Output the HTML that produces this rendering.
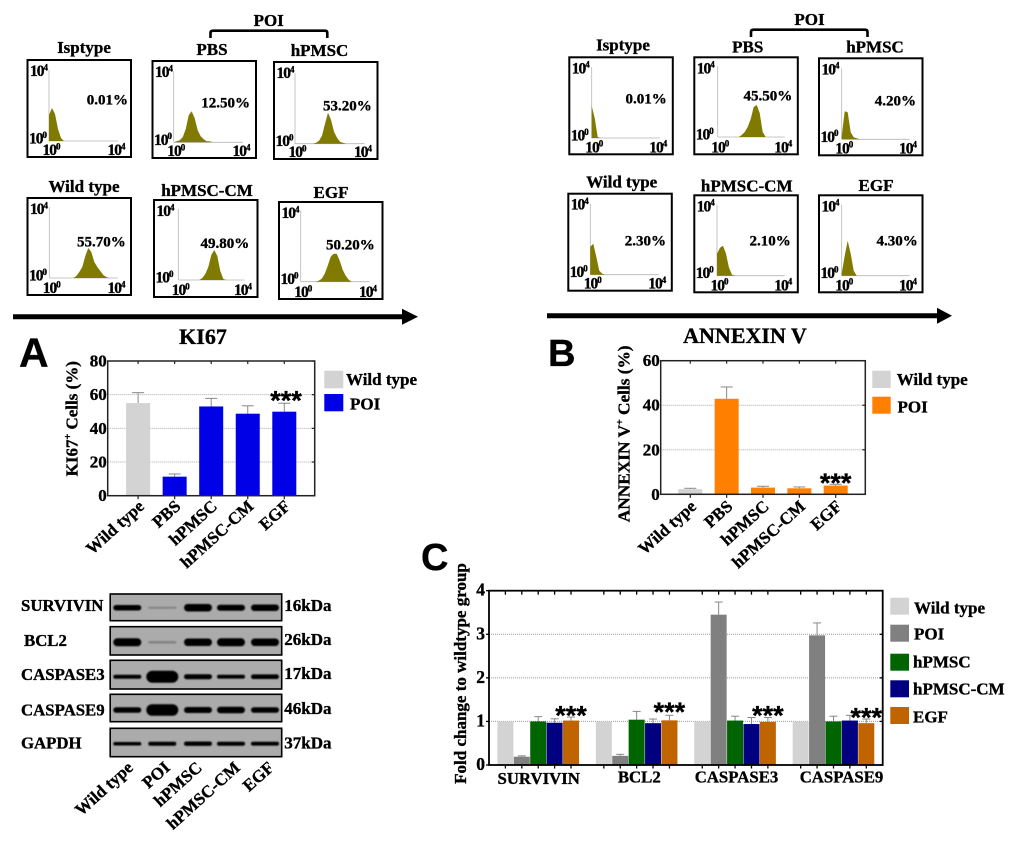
<!DOCTYPE html>
<html lang="en">
<head>
<meta charset="utf-8">
<title>KI67 and ANNEXIN V flow cytometry and protein expression figure</title>
<style>
html,body{margin:0;padding:0;background:#fff;}
#figure{display:block;position:absolute;left:0;top:0;width:1020px;height:841px;filter:blur(.35px);}
text{font-family:"Liberation Serif",serif;font-weight:bold;fill:#000;stroke:#000;stroke-width:.35px;}
</style>
</head>
<body>
<svg id="figure" xmlns="http://www.w3.org/2000/svg" width="1020" height="841" viewBox="0 0 1020 841">
<defs><filter id="bandBlur" x="-20%" y="-50%" width="140%" height="200%"><feGaussianBlur stdDeviation="0.7"/></filter></defs>
</svg>
<script>
/* ---------- Flow cytometry data (histogram counts per 3px bin) ---------- */
const ki67Titles = ["Isptype","PBS","hPMSC","Wild type","hPMSC-CM","EGF"];
const ki67Percent = ["0.01%","12.50%","53.20%","55.70%","49.80%","50.20%"];
const ki67HistIsotype = [26,33,27,12,3,0];
const ki67HistPBS = [0,1,2,5,13,27,31,24,12,6,3,1,1,0];
const ki67HistHPMSC = [0,0,0,0,0,0,0,1,3,8,20,31,24,12,6,2,1,0];
const ki67HistWild = [0,0,0,0,0,0,0,0,0,2,6,11,22,30,26,16,11,7,3,1,0];
const ki67HistCM = [0,0,0,0,0,0,0,0,2,6,13,25,30,24,9,1,0];
const ki67HistEGF = [0,0,0,0,0,0,1,3,8,16,25,28,28,21,12,6,2,0];

const annexinTitles = ["Isptype","PBS","hPMSC","Wild type","hPMSC-CM","EGF"];
const annexinPercent = ["0.01%","45.50%","4.20%","2.30%","2.10%","4.30%"];
const annexinHistIsotype = [32,20,1,0];
const annexinHistPBS = [0,0,0,0,0,0,0,0,2,5,10,18,30,32,24,5,0];
const annexinHistHPMSC = [3,28,27,7,2,1,0];
const annexinHistWild = [28,31,18,4,1,0];
const annexinHistCM = [22,28,30,22,8,1,0];
const annexinHistEGF = [2,20,35,22,5,0];

/* ---------- Bar chart A: KI67 ---------- */
const kiCategories = ["Wild type","PBS","hPMSC","hPMSC-CM","EGF"];
const kiValues = [55,11.3,53,48.7,49.9];
const kiErrors = [61.2,12.9,57.8,53.4,54.9];
const kiTicks = [0,20,40,60,80];

/* ---------- Bar chart B: ANNEXIN V ---------- */
const anCategories = ["Wild type","PBS","hPMSC","hPMSC-CM","EGF"];
const anValues = [2.3,42.9,3,2.7,3.9];
const anErrors = [2.7,48.2,3.6,3.3,4.5];
const anTicks = [0,20,40,60];

/* ---------- Bar chart C: fold change ---------- */
const foldGroups = ["SURVIVIN","BCL2","CASPASE3","CASPASE9"];
const foldSeries = ["Wild type","POI","hPMSC","hPMSC-CM","EGF"];
const foldWild = [1,1,1,1];
const foldPOI = [0.19,0.21,3.45,2.975];
const foldHPMSC = [1,1.04,1.02,1];
const foldCM = [0.97,0.96,0.94,1.02];
const foldEGF = [1.02,1.025,0.99,0.96];
const foldPOIErr = [0.21,0.245,3.74,3.26];
const foldHPMSCErr = [1.11,1.23,1.12,1.12];
const foldCMErr = [1.06,1.055,1.09,1.14];
const foldEGFErr = [1.1,1.14,1.09,1.055];
const foldStarLevel = [1.2,1.29,1.21,1.155];
const foldTicks = [0,1,2,3,4];

/* ---------- Western blot data ---------- */
const blotLanes = ["Wild type","POI","hPMSC","hPMSC-CM","EGF"];
const blotProteins = ["SURVIVIN","BCL2","CASPASE3","CASPASE9","GAPDH"];
const blotSizes = ["16kDa","26kDa","17kDa","46kDa","37kDa"];
const bandSurvivin = [5.5,2,7.5,6,6.5];
const bandBcl2 = [8,2.5,7.5,8,7.5];
const bandCaspase3 = [4,12,5,3.8,4.6];
const bandCaspase9 = [5.5,11.5,6,6.5,5.5];
const bandGapdh = [3.5,4,4.4,4,3.8];

const SVGNS = "http://www.w3.org/2000/svg";
const root = document.getElementById("figure");

function node(tag, attrs, parent, name) {
  const el = document.createElementNS(SVGNS, tag);
  for (const k in attrs) el.setAttribute(k, attrs[k]);
  
  
  parent.appendChild(el);
  return el;
}
function label(parent, x, y, str, size, anchor, name, rot, family) {
  const a = {x:x, y:y, "font-size":size, "text-anchor":anchor||"start"};
  if (rot) a.transform = "rotate(" + rot + " " + x + " " + y + ")";
  if (family) a.style = "font-family:" + family;
  const t = node("text", a, parent, name);
  t.textContent = str;
  return t;
}
function supLabel(parent, x, y, before, sup, after, size, anchor, name, rot) {
  const t = label(parent, x, y, "", size, anchor, name, rot);
  t.appendChild(document.createTextNode(before));
  const s = document.createElementNS(SVGNS, "tspan");
  s.setAttribute("font-size", Math.round(size*0.6));
  s.setAttribute("dy", -size*0.36);
  s.textContent = sup;
  t.appendChild(s);
  if (after) {
    const r = document.createElementNS(SVGNS, "tspan");
    r.setAttribute("dy", size*0.36);
    r.textContent = after;
    t.appendChild(r);
  }
  return t;
}
function flowTick(parent, x, y, sup, name) {
  const t = supLabel(parent, x, y, "10", sup, "", 15.5, "start", name);
  t.setAttribute("letter-spacing", "-1");
  return t;
}

/* Flow panel: box position, axis origin, counts */
function flowPanel(g, slug, boxX, boxY, axisX, axisY, counts, title, titleX, titleY, pct, pctX, pctY) {
  const p = node("g", {}, g, slug + "-panel");
  const histX = i => axisX + i*3;
  const histY = v => axisY - v;
  label(p, titleX, titleY, title, 17, "middle", slug + "-title");
  node("rect", {x:boxX, y:boxY, width:103.5, height:97, fill:"#fff", stroke:"#000", "stroke-width":2}, p, slug + "-frame");
  node("line", {x1:axisX, y1:axisY-71, x2:axisX, y2:axisY, stroke:"#b5b5b5", "stroke-width":.8}, p, slug + "-y-axis");
  node("line", {x1:axisX, y1:axisY, x2:boxX+90.5, y2:axisY, stroke:"#b5b5b5", "stroke-width":.8}, p, slug + "-x-axis");
  let d = "M" + histX(0) + " " + axisY;
  counts.forEach((v,i) => { d += "L" + histX(i) + " " + histY(v); });
  d += "L" + histX(counts.length-1) + " " + axisY + "Z";
  node("path", {d:d, fill:"#807a00"}, p, slug + "-histogram");
  flowTick(p, boxX+2.5, boxY+16, "4", slug + "-y-tick-max");
  flowTick(p, boxX+1.5, axisY+2.5, "0", slug + "-y-tick-min");
  flowTick(p, axisX-6.5, boxY+95, "0", slug + "-x-tick-min");
  flowTick(p, boxX+80, boxY+95, "4", slug + "-x-tick-max");
  label(p, pctX, pctY, pct, 15, "end", slug + "-percent");
}

/* ---- KI67 flow group ---- */
const flowA = node("g", {}, root, "ki67-flow-group");
flowPanel(flowA,"ki67-isotype",27.5,60,49,141,ki67HistIsotype,ki67Titles[0],84,53,ki67Percent[0],128,104.3);
flowPanel(flowA,"ki67-pbs",152.5,61,173.7,142.3,ki67HistPBS,ki67Titles[1],212,55,ki67Percent[1],250,107.7);
flowPanel(flowA,"ki67-hpmsc",274,62,295,143.7,ki67HistHPMSC,ki67Titles[2],319.5,56,ki67Percent[2],371.7,110.3);
flowPanel(flowA,"ki67-wild-type",27.5,198,49.3,278,ki67HistWild,ki67Titles[3],84,192,ki67Percent[3],125.7,246.7);
flowPanel(flowA,"ki67-hpmsc-cm",154,200,178.3,280,ki67HistCM,ki67Titles[4],207,196,ki67Percent[4],249.3,248);
flowPanel(flowA,"ki67-egf",279,202,300.7,281.7,ki67HistEGF,ki67Titles[5],331,198,ki67Percent[5],374.7,249.7);
label(flowA,268.7,26,"POI",17,"middle","ki67-poi-label");
node("path",{d:"M210.5 38V33Q210.5 30.7 213 30.7H325Q327.3 30.7 327.3 33V38",fill:"none",stroke:"#000","stroke-width":2.6},flowA,"ki67-poi-bracket");
node("path",{d:"M13 314.2H402V308.7L418 316.7L402 324.7V319.2H13Z",fill:"#000"},flowA,"ki67-arrow");
label(flowA,203,344,"KI67",22,"middle","ki67-arrow-label");

/* ---- ANNEXIN flow group ---- */
const flowB = node("g", {}, root, "annexin-flow-group");
flowPanel(flowB,"annexin-isotype",569.3,57.3,591.7,138,annexinHistIsotype,annexinTitles[0],623,50.7,annexinPercent[0],666.7,103.3);
flowPanel(flowB,"annexin-pbs",694.3,57.3,717.7,137,annexinHistPBS,annexinTitles[1],747.7,52.3,annexinPercent[1],792.3,100.3);
flowPanel(flowB,"annexin-hpmsc",819,58.3,841.7,139.3,annexinHistHPMSC,annexinTitles[2],875,52.7,annexinPercent[2],916,105.3);
flowPanel(flowB,"annexin-wild-type",568.3,193.7,590.3,274.7,annexinHistWild,annexinTitles[3],621.7,187.3,annexinPercent[3],666,245.3);
flowPanel(flowB,"annexin-hpmsc-cm",694.3,195.3,717,275.7,annexinHistCM,annexinTitles[4],746.7,191.7,annexinPercent[4],790.7,245.3);
flowPanel(flowB,"annexin-egf",819,195.3,841.7,275.7,annexinHistEGF,annexinTitles[5],876,191,annexinPercent[5],917.7,245.3);
label(flowB,809.5,25,"POI",17,"middle","annexin-poi-label");
node("path",{d:"M751 37V32Q751 29.7 753.5 29.7H865Q867.5 29.7 867.5 32V37",fill:"none",stroke:"#000","stroke-width":2.6},flowB,"annexin-poi-bracket");
node("path",{d:"M547 313.2H937V307.7L952 315.7L937 323.7V318.2H547Z",fill:"#000"},flowB,"annexin-arrow");
label(flowB,745,343,"ANNEXIN V",22,"middle","annexin-arrow-label");

/* ---- Panel letters ---- */
label(root,19,366.7,"A",41,"start","panel-letter-a",0,'"Liberation Sans",sans-serif');
label(root,548,366,"B",38,"start","panel-letter-b",0,'"Liberation Sans",sans-serif');
label(root,421,570,"C",38,"start","panel-letter-c",0,'"Liberation Sans",sans-serif');

/* Generic simple bar chart for A and B */
function simpleBarChart(cfg) {
  const g = node("g", {}, root, cfg.slug + "-chart");
  const L = cfg.left, R = cfg.right, T = cfg.top, B = cfg.bottom;
  const yMax = cfg.ticks[cfg.ticks.length-1];
  const yScale = v => B - v/yMax*(B-T);
  const n = cfg.categories.length;
  const step = (R-L-2*cfg.pad)/(n-1);
  const xScale = i => L + cfg.pad + i*step;
  cfg.ticks.forEach(t => {
    if (t>0 && t<yMax) node("line",{x1:L,y1:yScale(t),x2:R,y2:yScale(t),stroke:"#aaa","stroke-width":1,"stroke-dasharray":"1 1"},g,cfg.slug+"-gridline");
  });
  cfg.values.forEach((v,i) => {
    const col = i===0 ? cfg.wildColor : cfg.poiColor;
    const cx = xScale(i);
    node("line",{x1:cx,y1:yScale(v),x2:cx,y2:yScale(cfg.errors[i]),stroke:"#888","stroke-width":1},g,cfg.slug+"-error-bar");
    node("line",{x1:cx-6,y1:yScale(cfg.errors[i]),x2:cx+6,y2:yScale(cfg.errors[i]),stroke:"#888","stroke-width":1},g,cfg.slug+"-error-cap");
    node("rect",{x:cx-12,y:yScale(v),width:24,height:B-yScale(v),fill:col},g,cfg.slug+"-bar");
    node("line",{x1:cx,y1:B,x2:cx,y2:B+3.5,stroke:"#222","stroke-width":1.2},g,cfg.slug+"-x-tick");
    node("line",{x1:cx,y1:T,x2:cx,y2:T+3,stroke:"#222","stroke-width":1.2},g,cfg.slug+"-top-tick");
    label(g,cx+cfg.labelDX,B+cfg.labelDY,cfg.categories[i],17,"end",cfg.slug+"-x-label",-42);
  });
  node("rect",{x:L,y:T,width:R-L,height:B-T,fill:"none",stroke:"#222","stroke-width":1.5},g,cfg.slug+"-frame");
  cfg.ticks.forEach(t => {
    label(g,L-1,yScale(t)+5.5,String(t),17,"end",cfg.slug+"-y-tick-label");
    node("line",{x1:R-3,y1:yScale(t),x2:R,y2:yScale(t),stroke:"#222","stroke-width":1.2},g,cfg.slug+"-right-tick");
  });
  return {g:g, x:xScale, y:yScale};
}

/* ---- Chart A ---- */
const chartA = simpleBarChart({slug:"ki67",left:107.7,right:314.7,top:361,bottom:495.7,pad:30.4,
  categories:kiCategories,values:kiValues,errors:kiErrors,ticks:kiTicks,wildColor:"#d3d3d3",poiColor:"#0000e6",labelDX:7,labelDY:12});
supLabel(chartA.g,77.3,418.7,"KI67","+"," Cells (%)",17,"middle","ki67-y-axis-title",-90);
label(chartA.g,chartA.x(4)+1.7,409.3,"***",27,"middle","ki67-significance",0,'"Liberation Sans",sans-serif');
node("rect",{x:324.3,y:370.7,width:19,height:17.6,fill:"#d3d3d3"},chartA.g,"ki67-legend-wild-swatch");
label(chartA.g,346,385,"Wild type",17,"start","ki67-legend-wild-label");
node("rect",{x:324.3,y:394,width:19,height:17.3,fill:"#0000e6"},chartA.g,"ki67-legend-poi-swatch");
label(chartA.g,350,409.3,"POI",17,"start","ki67-legend-poi-label");

/* ---- Chart B ---- */
const chartB = simpleBarChart({slug:"annexin",left:660.7,right:865.3,top:360.7,bottom:494.3,pad:29.6,
  categories:anCategories,values:anValues,errors:anErrors,ticks:anTicks,wildColor:"#d3d3d3",poiColor:"#ff8000",labelDX:7,labelDY:13.5});
supLabel(chartB.g,629.3,433.8,"ANNEXIN V","+"," Cells (%)",17.3,"middle","annexin-y-axis-title",-90);
label(chartB.g,chartB.x(4),492,"***",27,"middle","annexin-significance",0,'"Liberation Sans",sans-serif');
node("rect",{x:872.3,y:370.7,width:18.4,height:17.3,fill:"#d3d3d3"},chartB.g,"annexin-legend-wild-swatch");
label(chartB.g,896.7,385,"Wild type",17,"start","annexin-legend-wild-label");
node("rect",{x:872.3,y:396.7,width:18.4,height:17,fill:"#ff8000"},chartB.g,"annexin-legend-poi-swatch");
label(chartB.g,897.5,412.3,"POI",17,"start","annexin-legend-poi-label");

/* ---- Chart C ---- */
(function(){
  const g = node("g", {}, root, "fold-change-chart");
  const L=489,R=882.7,T=590.7,B=765;
  const yScale = v => B - v/foldTicks[foldTicks.length-1]*(B-T);
  const step = (R-L)/(foldGroups.length*foldSeries.length + foldGroups.length);
  const xScale = (grp,s) => L + (1 + grp*(foldSeries.length+1) + s)*step;
  const seriesValues = [foldWild,foldPOI,foldHPMSC,foldCM,foldEGF];
  const seriesErrors = [foldWild,foldPOIErr,foldHPMSCErr,foldCMErr,foldEGFErr];
  const seriesColors = ["#d3d3d3","#808080","#006400","#000080","#c06400"];
  const legendYs = [597.7,624.7,653.7,680.3,707];
  const legendBase = [613.3,639.3,667.3,694.3,722.7];
  const legendX = [914,914,913,913,913];
  const groupLabelCenters = [538.7,639.3,736.5,841.5];
  const groupLabelBase = [784,782.7,782.7,782.7];

  foldTicks.forEach(t => {
    if (t>0 && t<foldTicks[foldTicks.length-1]) node("line",{x1:L,y1:yScale(t),x2:R,y2:yScale(t),stroke:"#999","stroke-width":1,"stroke-dasharray":"1 1"},g,"fold-gridline");
  });
  foldGroups.forEach((name,gi) => {
    foldSeries.forEach((sn,si) => {
      const cx = xScale(gi,si), v = seriesValues[si][gi], e = seriesErrors[si][gi];
      if (e > v) {
        node("line",{x1:cx,y1:yScale(v),x2:cx,y2:yScale(e),stroke:"#888","stroke-width":1},g,"fold-error-bar");
        node("line",{x1:cx-4,y1:yScale(e),x2:cx+4,y2:yScale(e),stroke:"#888","stroke-width":1},g,"fold-error-cap");
      }
      node("rect",{x:cx-8,y:yScale(v),width:16,height:B-yScale(v),fill:seriesColors[si]},g,"fold-bar-"+name.toLowerCase()+"-"+si);
      node("line",{x1:cx,y1:B,x2:cx,y2:B+3.5,stroke:"#000","stroke-width":1.3},g,"fold-x-tick");
      node("line",{x1:cx,y1:T,x2:cx,y2:T+4,stroke:"#000","stroke-width":1.3},g,"fold-top-tick");
    });
    label(g,groupLabelCenters[gi],groupLabelBase[gi],name,16.8,"middle","fold-group-label");
    label(g,xScale(gi,4),yScale(foldStarLevel[gi])+12,"***",27,"middle","fold-significance",0,'"Liberation Sans",sans-serif');
  });
  node("rect",{x:L,y:T,width:R-L,height:B-T,fill:"none",stroke:"#000","stroke-width":1.8},g,"fold-frame");
  foldTicks.forEach(t => {
    label(g,485,yScale(t)+5,String(t),17.5,"end","fold-y-tick-label");
    node("line",{x1:R-3,y1:yScale(t),x2:R,y2:yScale(t),stroke:"#000","stroke-width":1.3},g,"fold-right-tick");
    node("line",{x1:L-3,y1:yScale(t),x2:L,y2:yScale(t),stroke:"#000","stroke-width":1.3},g,"fold-left-tick");
  });
  label(g,466,673.5,"Fold change to wildtype group",17,"middle","fold-y-axis-title",-90);
  foldSeries.forEach((sn,si) => {
    node("rect",{x:890.3,y:legendYs[si],width:18.7,height:17,fill:seriesColors[si]},g,"fold-legend-swatch-"+si);
    label(g,legendX[si],legendBase[si],sn,17,"start","fold-legend-label-"+si);
  });
})();

/* ---- Western blot ---- */
(function(){
  const g = node("g", {}, root, "western-blot");
  const rows = [bandSurvivin,bandBcl2,bandCaspase3,bandCaspase9,bandGapdh];
  const boxY = [594,626.7,660.3,694.3,728.3];
  const boxH = [26.7,28.3,28.7,27.4,28.4];
  const bandCenterY = [607.7,642.3,676.7,710,743.7];
  const nameX = [21,24,21,21,21];
  const nameBase = [611,646,680,715.7,748.3];
  const sizeBase = [611,645,679,714,748.3];
  const laneX = [127.3,162.3,198,231,265];
  const labelEndX = [134,171,203,241,275];
  rows.forEach((row,ri) => {
    const prot = blotProteins[ri].toLowerCase();
    node("rect",{x:110.2,y:boxY[ri],width:171.5,height:boxH[ri],fill:"#ababab",stroke:"#000","stroke-width":1.6},g,prot+"-blot-strip");
    row.forEach((h,li) => {
      const faint = h < 3;
      const w = h>10 ? 32 : 28;
      node("rect",{x:laneX[li]-w/2,y:bandCenterY[ri]-h/2,width:w,height:h,rx:Math.min(h/2,w/2),ry:h/2,fill:faint?"#666":"#060606",opacity:faint?.6:1,filter:"url(#bandBlur)"},g,prot+"-band-"+li);
    });
    label(g,nameX[ri],nameBase[ri],blotProteins[ri],16.8,"start",prot+"-label");
    label(g,284.3,sizeBase[ri],blotSizes[ri],17,"start",prot+"-size-label");
  });
  blotLanes.forEach((nm,li) => {
    label(g,labelEndX[li],769,nm,17,"end","blot-lane-label",-42);
  });
})();
</script>
</body>
</html>
